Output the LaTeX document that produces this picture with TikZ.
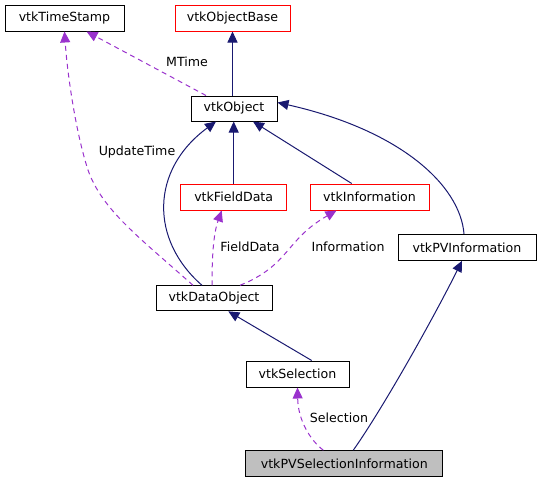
\documentclass[tikz,border=0pt]{standalone}
\usepackage{fontspec}
\setmainfont{DejaVu Sans}
\usetikzlibrary{arrows.meta}
\definecolor{navy}{HTML}{191970}
\definecolor{orchid}{HTML}{9A32CD}
\definecolor{grayfill}{HTML}{BFBFBF}
\tikzset{
  box/.style={draw=black, line width=1pt, fill=white, inner sep=0pt, minimum height=26pt, font=\fontsize{12.6}{15}\selectfont},
  redbox/.style={box, draw=red},
  inh/.style={navy, line width=1pt, -{Triangle[length=11pt,width=10pt]}},
  use/.style={orchid, line width=1pt, dash pattern=on 5pt off 4pt, -{Triangle[length=11pt,width=10pt]}},
  lbl/.style={font=\fontsize{12.6}{15}\selectfont, inner sep=0pt}
}
\begin{document}
\begin{tikzpicture}[x=1pt,y=-1pt]
\useasboundingbox (0,0) rectangle (541,483);
% nodes
\node[box, minimum width=119pt] (ts) at (64.5,18) {vtkTimeStamp};
\node[redbox, minimum width=115pt] (ob) at (232.5,18) {vtkObjectBase};
\node[box, minimum width=86pt, minimum height=25pt] (obj) at (234,108.5) {vtkObject};
\node[redbox, minimum width=106pt] (fd) at (233.7,197) {vtkFieldData};
\node[redbox, minimum width=119pt] (inf) at (369.5,197) {vtkInformation};
\node[box, minimum width=138pt] (pvi) at (467,247.3) {vtkPVInformation};
\node[box, minimum width=116pt, minimum height=25pt] (dobj) at (214,298.3) {vtkDataObject};
\node[box, minimum width=103pt] (sel) at (297.5,374) {vtkSelection};
\node[box, fill=grayfill, minimum width=197pt] (pvsi) at (344.3,463.7) {vtkPVSelectionInformation};
% inheritance edges
\draw[inh] (obj.north -| ob.south) -- (ob.south);
\draw[inh] (fd.north) -- (fd.north |- obj.south);
\draw[inh] ([xshift=-17.8pt]inf.north) -- ([xshift=19pt]obj.south);
\draw[inh] ([xshift=-12pt]dobj.north) .. controls (150,240) and (150,170) .. ([xshift=-18pt]obj.south);
\draw[inh] ([xshift=-3pt]pvi.north) .. controls (460,185) and (400,130) .. ([yshift=6pt]obj.east);
\draw[inh] ([xshift=14.2pt]sel.north) -- ([xshift=14.3pt]dobj.south);
\draw[inh] ([xshift=9pt]pvsi.north) .. controls (385,405) and (435,315) .. ([xshift=-5pt]pvi.south);
% usage edges
\draw[use] ([xshift=-28pt]obj.north) -- ([xshift=22pt]ts.south);
\draw[use] ([xshift=-21pt]dobj.north) .. controls (140,238) and (102,210) .. (88,170) .. controls (75,130) and (67,70) .. (ts.south);
\draw[use] ([xshift=-2pt]dobj.north) .. controls (212,260) and (213,235) .. ([xshift=-12pt]fd.south);
\draw[use] ([xshift=26pt]dobj.north) .. controls (290,265) and (285,240) .. ([xshift=-33pt]inf.south);
\draw[use] ([xshift=-21pt]pvsi.north) .. controls (310,440) and (298,420) .. (sel.south);
% labels
\node[lbl] (lm) at (187,62) {MTime};
\node[lbl] (lu) at (137,152) {UpdateTime};
\node[lbl] (lf) at (250,246.5) {FieldData};
\node[lbl] (li) at (348,246.5) {Information};
\node[lbl] (ls) at (339,418) {Selection};
\end{tikzpicture}
\end{document}
